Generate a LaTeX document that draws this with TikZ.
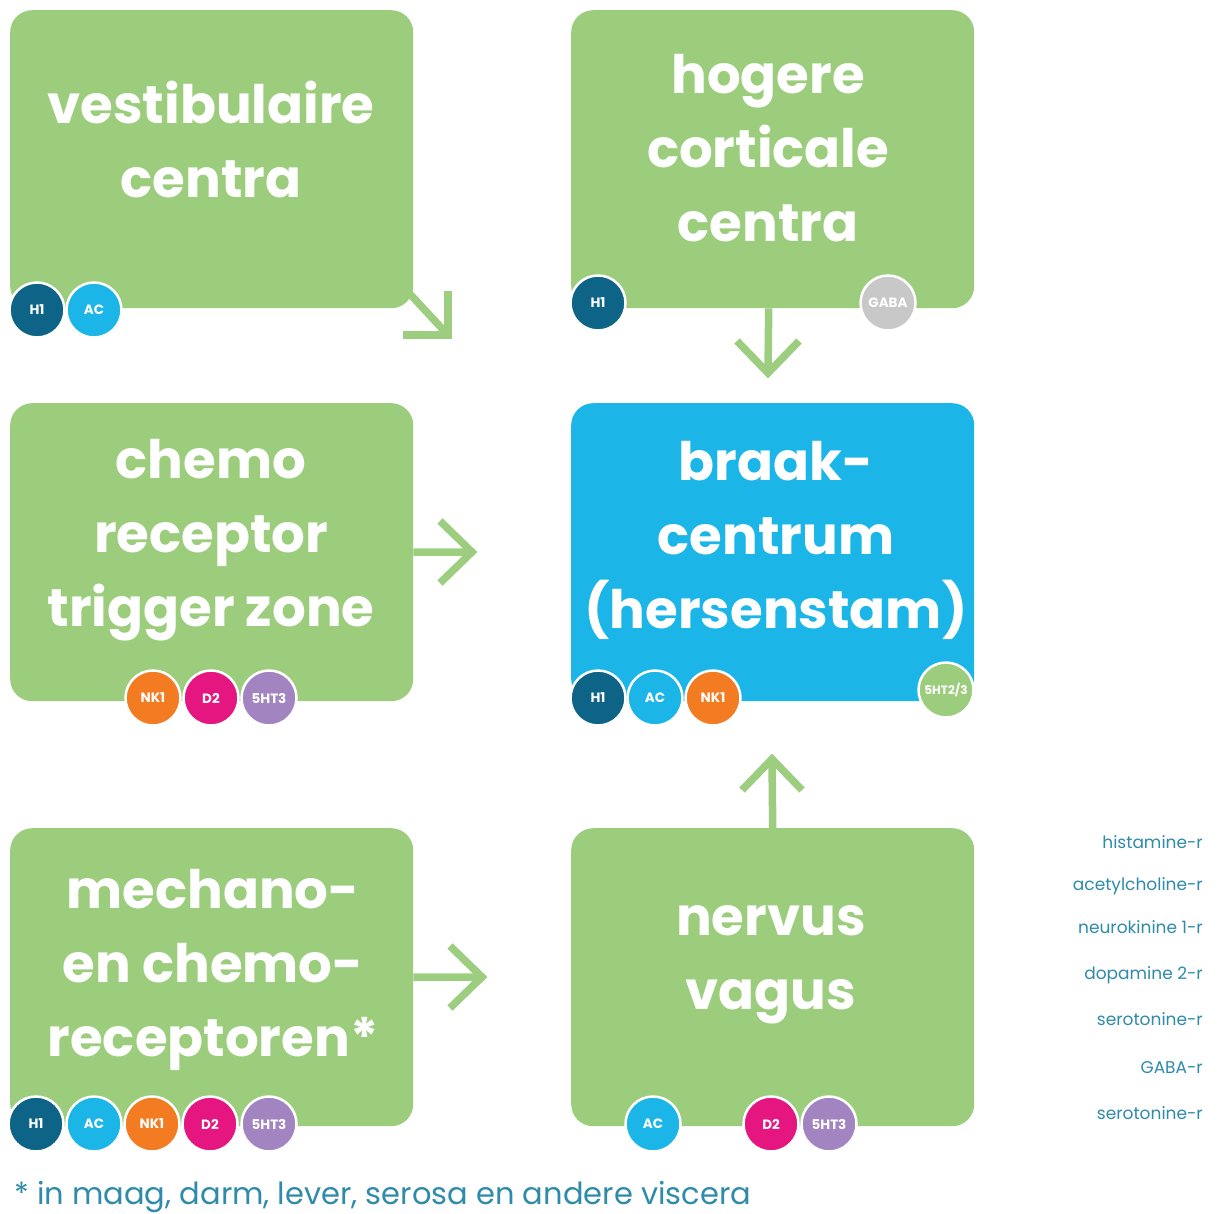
\documentclass[tikz,border=0pt]{standalone}
\usepackage{fontspec}
\setmainfont{Poppins}
\usetikzlibrary{calc}
\definecolor{boxgreen}{HTML}{9BCD7D}
\definecolor{arrgreen}{HTML}{9DCE80}
\definecolor{braakblue}{HTML}{1BB5E8}
\definecolor{hone}{HTML}{0E6487}
\definecolor{acblue}{HTML}{1BB5E8}
\definecolor{nkorange}{HTML}{F37B21}
\definecolor{dmag}{HTML}{E5167F}
\definecolor{htpurple}{HTML}{A284C1}
\definecolor{gabagrey}{HTML}{C8C8C8}
\definecolor{legteal}{HTML}{2E8BAA}
\begin{document}
\begin{tikzpicture}[x=1pt,y=-1pt,
  box/.style={fill=boxgreen, rounded corners=22pt, minimum width=403pt, minimum height=298pt, anchor=north west, inner sep=0pt},
  boxtext/.style={text=white, align=center, font=\bfseries\fontsize{53}{74}\selectfont, inner sep=0pt},
  rc/.style={circle, draw=white, line width=2.5pt, minimum size=55pt, inner sep=0pt, text=white, font=\bfseries\fontsize{13.5}{14}\selectfont},
  arr/.style={draw=arrgreen, line width=7.5pt, line join=miter, line cap=butt},
  leg/.style={text=legteal, anchor=base east, inner sep=0pt, font=\fontsize{17}{18}\selectfont}]
\fill[white] (0,0) rectangle (1217,1214);
% boxes
\node[box] (vest) at (10,10) {};
\node[box] (hog) at (571,10) {};
\node[box] (chemo) at (10,403) {};
\node[box, fill=braakblue] (braak) at (571,403) {};
\node[box] (mech) at (10,828) {};
\node[box] (nerv) at (571,828) {};
% texts
\node[boxtext] (tvest) at (211,139) {vestibulaire\\centra};
\node[boxtext] (thog) at (768,148) {hogere\\corticale\\centra};
\node[boxtext] (tchemo) at (211,540) {chemo\\receptor\\trigger zone};
\node[boxtext] (tbraak) at (776,540) {braak-\\centrum\\(hersenstam)};
\node[boxtext] (tmech) at (213,970) {mechano-\\en chemo-\\receptoren*};
\node[boxtext] (tnerv) at (771,965) {nervus\\vagus};
% arrows
\coordinate (a1t) at (448,335);
\draw[arr] ($(vest.south east)+(-4,-15)$) -- (a1t);
\draw[arr] ($(a1t)+(0,-44)$) -- (a1t) -- ($(a1t)+(-45,0)$);
\coordinate (a2t) at (768,373);
\draw[arr] ($(hog.south)+(-4,0)$) -- (a2t);
\draw[arr] ($(a2t)+(-31,-32)$) -- (a2t) -- ($(a2t)+(31,-32)$);
\coordinate (a3t) at (472,552);
\draw[arr] (chemo.east) -- (a3t);
\draw[arr] ($(a3t)+(-32,-31)$) -- (a3t) -- ($(a3t)+(-32,31)$);
\coordinate (a4t) at (772,759);
\draw[arr] (nerv.north) -- (a4t);
\draw[arr] ($(a4t)+(-30,31)$) -- (a4t) -- ($(a4t)+(30,31)$);
\coordinate (a5t) at (482,977);
\draw[arr] (mech.east) -- (a5t);
\draw[arr] ($(a5t)+(-32,-31)$) -- (a5t) -- ($(a5t)+(-32,31)$);
% receptor circles
\node[rc, fill=hone] (v1) at (37,310) {H1};
\node[rc, fill=acblue] (v2) at (94,310) {AC};
\node[rc, fill=hone] (h1) at (598,303) {H1};
\node[rc, fill=gabagrey] (h2) at (888,303) {GABA};
\node[rc, fill=nkorange] (c1) at (153,698) {NK1};
\node[rc, fill=dmag] (c2) at (211,698) {D2};
\node[rc, fill=htpurple] (c3) at (269,698) {5HT3};
\node[rc, fill=hone] (b1) at (598,698) {H1};
\node[rc, fill=acblue] (b2) at (655,698) {AC};
\node[rc, fill=nkorange] (b3) at (713,698) {NK1};
\node[rc, fill=boxgreen, font=\bfseries\fontsize{12}{12}\selectfont] (b4) at (946,690) {5HT2/3};
\node[rc, fill=hone] (m1) at (36,1124) {H1};
\node[rc, fill=acblue] (m2) at (94,1124) {AC};
\node[rc, fill=nkorange] (m3) at (152,1124) {NK1};
\node[rc, fill=dmag] (m4) at (210,1124) {D2};
\node[rc, fill=htpurple] (m5) at (269,1124) {5HT3};
\node[rc, fill=acblue] (n1) at (653,1124) {AC};
\node[rc, fill=dmag] (n2) at (771,1124) {D2};
\node[rc, fill=htpurple] (n3) at (829,1124) {5HT3};
% legend
\node[leg] (l1) at (1203,848) {histamine-r};
\node[leg] (l2) at (1203,890) {acetylcholine-r};
\node[leg] (l3) at (1203,933) {neurokinine 1-r};
\node[leg] (l4) at (1203,979) {dopamine 2-r};
\node[leg] (l5) at (1203,1025) {serotonine-r};
\node[leg] (l6) at (1203,1073) {GABA-r};
\node[leg] (l7) at (1203,1119) {serotonine-r};
% footnote
\node[text=legteal, anchor=base west, inner sep=0pt, font=\fontsize{30.5}{31}\selectfont] (foot) at (14,1204) {* in maag, darm, lever, serosa en andere viscera};
\end{tikzpicture}
\end{document}
